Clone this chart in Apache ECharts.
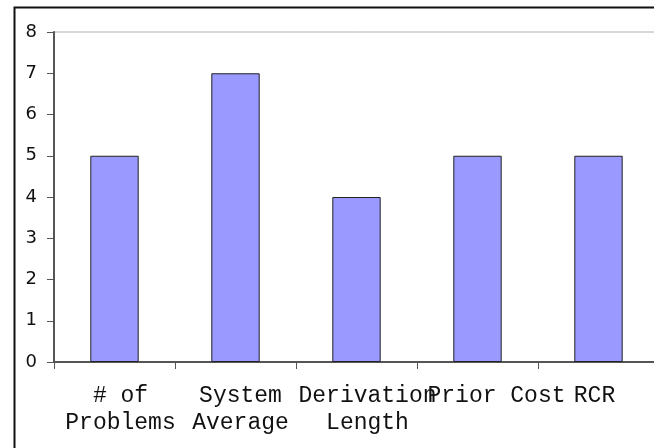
<!DOCTYPE html>
<html>
<head>
<meta charset="utf-8">
<script src="https://cdn.jsdelivr.net/npm/echarts@6/dist/echarts.min.js"></script>
<style>html,body{margin:0;padding:0;background:#fff;overflow:hidden;width:654px;height:448px;}#c{width:668px;height:460px;}</style>
</head>
<body>
<div id="c"></div>
<script>
var categories = ['# of\nProblems', 'System\nAverage', 'Derivation\nLength', 'Prior Cost', 'RCR'];
var values = [5, 7, 4, 5, 5];
var yTicks = [0, 1, 2, 3, 4, 5, 6, 7, 8];
var labelShift = [6, 5, 11, 19, -4];

var catData = categories.map(function (c, i) {
  var s = labelShift[i];
  return {value: c, textStyle: {padding: s >= 0 ? [0, 0, 0, 2 * s] : [0, -2 * s, 0, 0]}};
});

var chart = echarts.init(document.getElementById('c'), null, {renderer: 'canvas'});
chart.setOption({
  animation: false,
  backgroundColor: '#fff',
  grid: {left: 54, top: 32, width: 605, height: 330, show: true, borderColor: '#b0b0b0', borderWidth: 1, containLabel: false},
  graphic: [{
    type: 'rect', left: 12, top: 5, z: 100,
    shape: {x: 0, y: 0, width: 700, height: 500},
    style: {fill: 'none', stroke: '#111', lineWidth: 2}
  }],
  xAxis: {
    type: 'category',
    data: catData,
    axisLine: {lineStyle: {color: '#555', width: 2}},
    axisTick: {show: true, length: 7, lineStyle: {color: '#555', width: 1}},
    axisLabel: {interval: 0, margin: 20, fontFamily: 'Liberation Mono', fontSize: 23, lineHeight: 27, color: '#111', align: 'center'},
    splitLine: {show: false}
  },
  yAxis: {
    type: 'value',
    min: yTicks[0], max: yTicks[yTicks.length - 1], interval: 1,
    axisLine: {show: true, lineStyle: {color: '#555', width: 2}},
    axisTick: {show: true, length: 7, lineStyle: {color: '#555', width: 1}},
    axisLabel: {margin: 17, fontFamily: 'DejaVu Sans', fontSize: 18, color: '#111'},
    splitLine: {show: false}
  },
  series: [{
    type: 'bar',
    data: values,
    barWidth: '40%',
    itemStyle: {color: '#9999ff', borderColor: '#222', borderWidth: 1}
  }]
});
</script>
</body>
</html>
